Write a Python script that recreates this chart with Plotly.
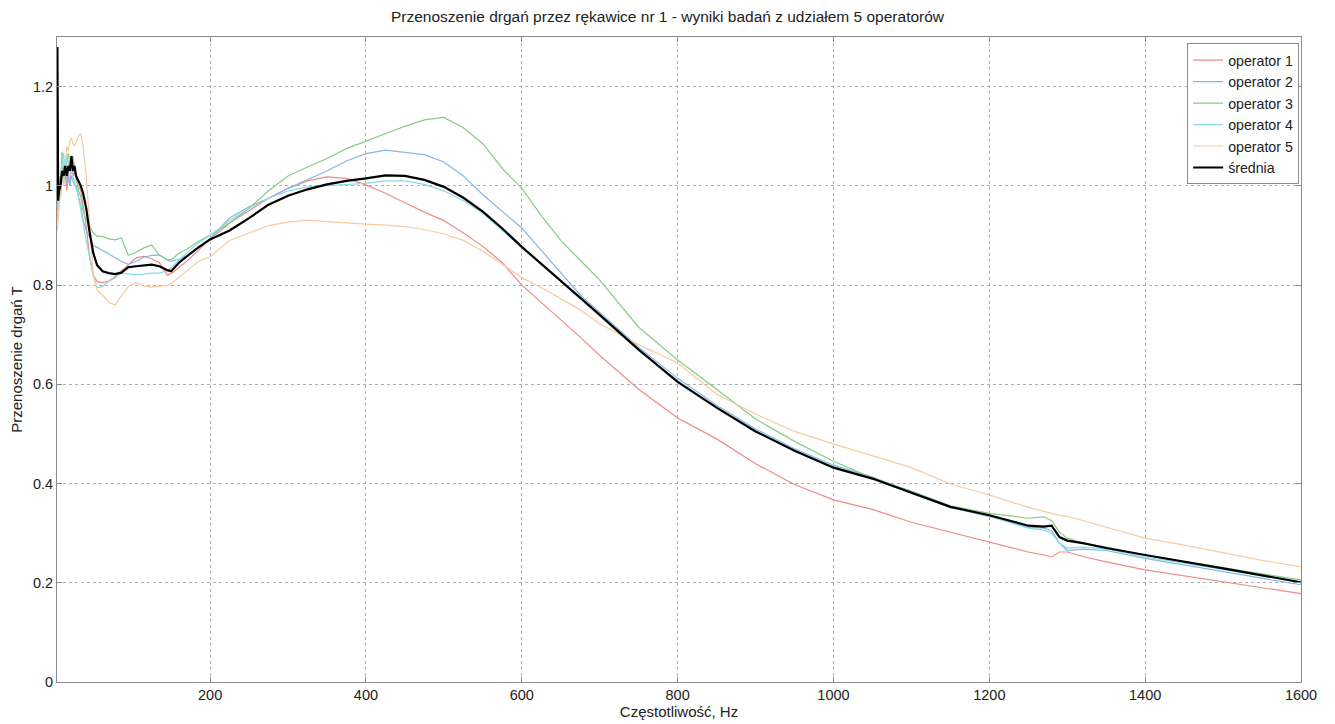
import plotly.graph_objects as go

freq = [4, 5, 6, 8, 10, 12, 14, 16, 18, 20, 22, 24, 26, 28, 31, 34, 37, 41, 45, 50, 55, 62, 70, 78, 86, 95,
        105, 115, 125, 135, 145, 150, 160, 170, 185, 200, 225, 250, 275, 300, 325, 350, 375, 400, 425,
        450, 475, 500, 525, 550, 575, 600, 625, 650, 675, 700, 750, 800, 850, 900, 950, 1000, 1050,
        1100, 1150, 1200, 1250, 1270, 1280, 1290, 1300, 1320, 1350, 1400, 1450, 1500, 1550, 1600]

op1 = [0.97, 0.99, 1.00, 0.98, 1.02, 1.01, 1.03, 0.99, 1.02, 1.00, 1.04, 1.02, 1.03, 1.01, 1.00, 0.99, 0.96,
       0.92, 0.86, 0.82, 0.807, 0.805, 0.808, 0.815, 0.828, 0.84, 0.855, 0.858, 0.853, 0.845, 0.82, 0.823,
       0.835, 0.848, 0.87, 0.893, 0.925, 0.95, 0.975, 0.995, 1.01, 1.018, 1.015, 1.002, 0.985, 0.966,
       0.947, 0.93, 0.905, 0.878, 0.845, 0.80, 0.765, 0.73, 0.695, 0.658, 0.59, 0.532, 0.49, 0.44,
       0.398, 0.367, 0.348, 0.322, 0.302, 0.283, 0.262, 0.256, 0.252, 0.262, 0.262, 0.253, 0.242, 0.226,
       0.214, 0.202, 0.19, 0.178]

op2 = [0.95, 0.98, 1.00, 0.98, 1.04, 1.00, 1.05, 1.005, 1.03, 1.00, 1.02, 1.01, 1.00, 0.999, 0.98, 0.96,
       0.931, 0.91, 0.898, 0.88, 0.876, 0.87, 0.862, 0.855, 0.848, 0.842, 0.848, 0.856, 0.86, 0.861,
       0.85, 0.848, 0.852, 0.858, 0.875, 0.894, 0.935, 0.958, 0.975, 0.995, 1.012, 1.03, 1.05, 1.065,
       1.072, 1.068, 1.063, 1.048, 1.02, 0.982, 0.948, 0.915, 0.87, 0.825, 0.78, 0.745, 0.675, 0.612,
       0.558, 0.51, 0.47, 0.437, 0.413, 0.383, 0.352, 0.333, 0.312, 0.31, 0.305, 0.28, 0.265, 0.268,
       0.265, 0.249, 0.236, 0.223, 0.21, 0.196]

op3 = [0.96, 1.00, 1.02, 1.00, 1.069, 1.03, 1.026, 1.05, 1.066, 1.04, 1.06, 1.059, 1.04, 1.02, 0.99, 0.978,
       0.95, 0.931, 0.918, 0.905, 0.898, 0.898, 0.893, 0.891, 0.895, 0.86, 0.866, 0.875, 0.881, 0.86,
       0.852, 0.851, 0.864, 0.872, 0.888, 0.901, 0.925, 0.955, 0.99, 1.02, 1.038, 1.055, 1.075, 1.09,
       1.105, 1.12, 1.133, 1.138, 1.117, 1.085, 1.035, 0.995, 0.94, 0.89, 0.85, 0.81, 0.715, 0.649,
       0.59, 0.53, 0.485, 0.445, 0.411, 0.385, 0.355, 0.34, 0.33, 0.333, 0.325, 0.302, 0.29, 0.28,
       0.272, 0.256, 0.243, 0.23, 0.218, 0.206]

op4 = [0.93, 0.97, 1.00, 1.01, 1.05, 1.066, 1.03, 1.06, 1.04, 1.05, 1.03, 1.02, 1.01, 0.995, 0.978, 0.95,
       0.92, 0.89, 0.86, 0.82, 0.795, 0.797, 0.808, 0.818, 0.824, 0.822, 0.821, 0.822, 0.824, 0.824,
       0.829, 0.835, 0.85, 0.865, 0.885, 0.90, 0.93, 0.955, 0.975, 0.99, 0.998, 1.00, 1.002, 1.005,
       1.01, 1.01, 1.003, 0.99, 0.97, 0.945, 0.91, 0.875, 0.842, 0.808, 0.777, 0.738, 0.668, 0.607,
       0.553, 0.507, 0.468, 0.434, 0.41, 0.38, 0.352, 0.334, 0.31, 0.306, 0.30, 0.28, 0.27, 0.272,
       0.268, 0.252, 0.24, 0.227, 0.214, 0.20]

op5 = [0.91, 0.93, 0.96, 1.00, 1.03, 1.00, 1.05, 1.08, 1.07, 1.09, 1.096, 1.085, 1.08, 1.09, 1.10, 1.106,
       1.08, 1.02, 0.93, 0.82, 0.79, 0.78, 0.765, 0.76, 0.778, 0.797, 0.805, 0.798, 0.796, 0.797, 0.799,
       0.803, 0.816, 0.83, 0.848, 0.857, 0.89, 0.905, 0.92, 0.927, 0.931, 0.928, 0.925, 0.923, 0.921,
       0.918, 0.912, 0.903, 0.89, 0.868, 0.842, 0.815, 0.795, 0.773, 0.75, 0.722, 0.68, 0.643, 0.58,
       0.54, 0.505, 0.48, 0.456, 0.432, 0.399, 0.377, 0.352, 0.344, 0.34, 0.336, 0.334, 0.325, 0.312,
       0.29, 0.276, 0.26, 0.245, 0.232]

mean = [1.28, 0.97, 0.99, 1.00, 1.03, 1.02, 1.04, 1.02, 1.04, 1.03, 1.06, 1.03, 1.04, 1.02, 1.01, 1.00,
        0.985, 0.955, 0.91, 0.865, 0.84, 0.828, 0.824, 0.822, 0.825, 0.836, 0.838, 0.84, 0.841, 0.838,
        0.83, 0.828, 0.845, 0.858, 0.876, 0.892, 0.91, 0.935, 0.962, 0.98, 0.993, 1.003, 1.01, 1.015,
        1.021, 1.02, 1.012, 0.998, 0.976, 0.948, 0.914, 0.877, 0.843, 0.81, 0.775, 0.74, 0.67, 0.605,
        0.553, 0.505, 0.466, 0.432, 0.41, 0.382, 0.353, 0.336, 0.315, 0.313, 0.315, 0.292, 0.285, 0.28,
        0.27, 0.256, 0.243, 0.229, 0.215, 0.201]

names = ["operator 1", "operator 2", "operator 3", "operator 4", "operator 5", "średnia"]
colors = ["#f08a8a", "#86b6e6", "#86cc86", "#86dde6", "#f7caa0", "#000000"]
widths = [1.2, 1.2, 1.2, 1.2, 1.2, 2.2]
series = [op1, op2, op3, op4, op5, mean]

fig = go.Figure()
for n, c, w, s in zip(names, colors, widths, series):
    fig.add_trace(go.Scatter(x=freq, y=s, mode="lines", name=n, line=dict(color=c, width=w)))

font = "Liberation Sans, Arial, sans-serif"
axis_common = dict(showline=True, linecolor="#8c8c8c", linewidth=1, mirror="ticks",
                   ticks="inside", ticklen=5, tickcolor="#8c8c8c",
                   showgrid=True, gridcolor="#b0b0b0", griddash="dot", gridwidth=1,
                   zeroline=False, automargin=False,
                   tickfont=dict(size=14.5, color="#222", family=font))

fig.update_layout(
    width=1335, height=724,
    paper_bgcolor="white", plot_bgcolor="white",
    margin=dict(l=57, r=34, t=37, b=42),
    title=dict(text="Przenoszenie drgań przez rękawice nr 1 - wyniki badań z udziałem 5 operatorów",
               x=0.5, xanchor="center", y=0.977, yanchor="middle",
               font=dict(size=15.5, color="#222", family=font)),
    font=dict(family=font, color="#222"),
    legend=dict(x=0.9985, y=0.99, xanchor="right", yanchor="top",
                bgcolor="white", bordercolor="#8c8c8c", borderwidth=1,
                font=dict(size=14.2, color="#222", family=font)),
    showlegend=True,
)
fig.update_xaxes(range=[3.5, 1600], tick0=0, dtick=200, **axis_common,
                 title=dict(text="Częstotliwość, Hz", standoff=0, font=dict(size=15, family=font)))
fig.update_yaxes(range=[0, 1.3], tick0=0, dtick=0.2, **axis_common,
                 title=dict(text="Przenoszenie drgań T", standoff=6, font=dict(size=15, family=font)))

fig.write_html("out.html", config={"displayModeBar": False},
               post_script="document.body.style.margin='0';document.body.style.overflow='hidden';")
